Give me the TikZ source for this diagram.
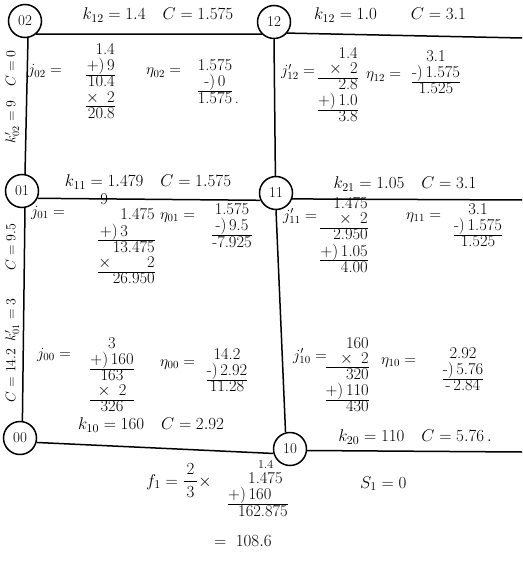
\RequirePackage{fix-cm}
\documentclass[tikz,border=0pt]{standalone}
\usepackage{amsmath}
\usepackage{fontspec}
\setlength{\arrayrulewidth}{0.9pt}
\renewcommand{\arraystretch}{1}
\newcommand{\stk}[2]{\begin{tabular}{@{}#1@{}}#2\end{tabular}}
\begin{document}
\begin{tikzpicture}[x=1pt,y=-1pt,
  st/.style={circle,draw,line width=1.5pt,minimum size=33pt,inner sep=0pt,font=\fontsize{15}{15}\selectfont},
  edge/.style={line width=1.5pt},
  lab/.style={font=\fontsize{17}{17}\selectfont,inner sep=0pt},
  vlab/.style={font=\fontsize{14}{14}\selectfont,inner sep=0pt,rotate=90},
  calc/.style={font=\fontsize{16.5}{14}\selectfont\addfontfeatures{LetterSpace=8},inner sep=0pt},
  var/.style={font=\fontsize{15.5}{15.5}\selectfont,inner sep=0pt},
]
\useasboundingbox (0,0) rectangle (522,561);
% states
\node[st] (n02) at (25,21) {02};
\node[st] (n12) at (274,22) {12};
\node[st] (n01) at (22,191) {01};
\node[st] (n11) at (276,193) {11};
\node[st] (n00) at (20,438) {00};
\node[st] (n10) at (290,449) {10};
\coordinate (e12) at (522,38);
\coordinate (e11) at (522,200);
\coordinate (e10) at (522,452);
% edges
\draw[edge] (n02.-50) -- (n12.225);
\draw[edge] (n12.-40) -- (e12);
\draw[edge] (n01.-25) -- (n11.205);
\draw[edge] (n11.-20) -- (e11);
\draw[edge] (n00.-15) -- (n10.195);
\draw[edge] (n10.-5) -- (e10);
\draw[edge] (n02.-80) -- (n01.80);
\draw[edge] (n01.-80) -- (n00.82);
\draw[edge] (n12.-90) -- (n11.92);
\draw[edge] (n11.-90) -- (n10.105);
% edge labels
\node[lab] (k12a) at (158,15) {$k_{12}=1.4$\quad $C=1.575$};
\node[lab] (k12b) at (390,15) {$k_{12}=1.0$\qquad $C=3.1$};
\node[lab] (k11) at (148,182) {$k_{11}=1.479$\quad $C=1.575$};
\node[lab] (k21) at (405,184) {$k_{21}=1.05$\quad $C=3.1$};
\node[lab] (k10) at (151,425) {$k_{10}=160$\quad $C=2.92$};
\node[lab] (k20) at (415,437) {$k_{20}=110$\quad $C=5.76\,.$};
\node[vlab] (kv02) at (12,97) {$k'_{02}=9$\quad $C=0$};
\node[vlab] (kv01) at (12,313) {$C=14.2$\enspace $k'_{01}=3$\qquad $C=9.5$};
% cell 02
\node[var,anchor=base west] (j02) at (28,75) {$j_{02}=$};
\node[calc,anchor=north east] (j02s) at (115,43) {\stk{r}{1.4\\ +)\,9\\\hline 10.4\\ $\times$\enspace 2\\\hline 20.8}};
\node[var,anchor=base west] (h02) at (146,75) {$\eta_{02}=$};
\node[calc,anchor=north] (h02s) at (215,59) {\stk{c}{1.575\\ -)\,0\\\hline 1.575\rlap{\,.}}};
% cell 12
\node[var,anchor=base west] (j12) at (281,76) {$j'_{12}=$};
\node[calc,anchor=north east] (j12s) at (358,47) {\stk{r}{1.4\\ $\times$\enspace 2\\\hline 2.8\\ +)\,1.0\\\hline 3.8}};
\node[var,anchor=base west] (h12) at (366,79) {$\eta_{12}=$};
\node[calc,anchor=north] (h12s) at (436,50) {\stk{c}{3.1\\ -)\,1.575\\\hline 1.525}};
% cell 01
\node[var,anchor=base west] (j01) at (31,216) {$j_{01}=$};
\node[calc,anchor=north east] (j01s) at (155,193) {\stk{r}{\multicolumn{1}{@{}l@{}}{\hspace{2pt}9}\\ 1.475\\ +)\,3\phantom{.475}\\\hline 13.475\\ $\times$\hspace{36pt}2\\\hline 26.950}};
\node[var,anchor=base west] (h01) at (160,219) {$\eta_{01}=$};
\node[calc,anchor=north] (h01s) at (232,203) {\stk{c}{1.575\\ -)\,9.5\\\hline -7.925}};
% cell 11
\node[var,anchor=base west] (j11) at (283,220) {$j'_{11}=$};
\node[calc,anchor=north east] (j11s) at (368,197) {\stk{r}{1.475\\ $\times$\enspace 2\\\hline 2.950\\ +)\,1.05\\\hline 4.00}};
\node[var,anchor=base west] (h11) at (406,219) {$\eta_{11}=$};
\node[calc,anchor=north] (h11s) at (478,203) {\stk{c}{3.1\\ -)\,1.575\\\hline 1.525}};
% cell 00
\node[var,anchor=base west] (j00) at (37,358) {$j_{00}=$};
\node[calc,anchor=north] (j00s) at (112,337) {\stk{c}{3\\ +)\,160\\\hline 163\\ $\times$\enspace 2\\\hline 326}};
\node[var,anchor=base west] (h00) at (160,366) {$\eta_{00}=$};
\node[calc,anchor=north] (h00s) at (227,348) {\stk{c}{14.2\\ -)\,2.92\\\hline 11.28}};
% cell 10
\node[var,anchor=base west] (j10) at (293,360) {$j'_{10}=$};
\node[calc,anchor=north east] (j10s) at (369,337) {\stk{r}{160\\ $\times$\enspace 2\\\hline 320\\ +)\,110\\\hline 430}};
\node[var,anchor=base west] (h10) at (381,364) {$\eta_{10}=$};
\node[calc,anchor=north] (h10s) at (463,347) {\stk{c}{2.92\\ -)\,5.76\\\hline -\,2.84}};
% bottom
\node[lab,anchor=base west] (f1) at (146,486) {$f_1=\dfrac{\,2\,}{\,3\,}\times$};
\node[calc,anchor=north west] (f1s) at (228,458) {\stk{l}{\hspace{30pt}{\fontsize{12}{12}\selectfont 1.4}\\ \hspace{20pt}1.475\\ +)\,160\\\hline \hspace{10pt}162.875\hspace{16pt}}};
\node[lab,anchor=base west] (f1r) at (214,546) {$=\;108.6$};
\node[lab,anchor=base west] (s1) at (360,488) {$S_1=0$};
\end{tikzpicture}
\end{document}
